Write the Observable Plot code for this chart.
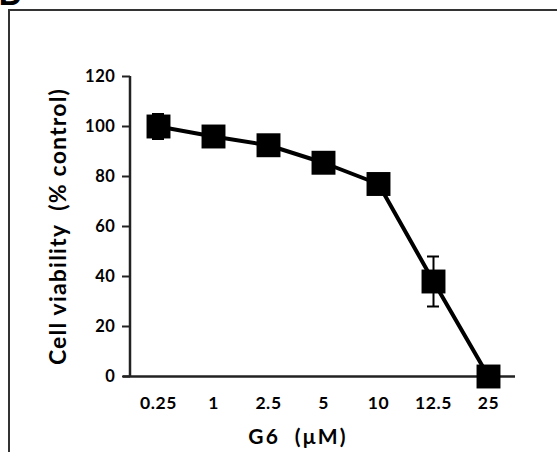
<!DOCTYPE html>
<html><head><meta charset="utf-8">
<script src="https://cdn.jsdelivr.net/npm/d3@7"></script>
<script src="https://cdn.jsdelivr.net/npm/@observablehq/plot@0.6"></script>
<style>
html,body{margin:0;padding:0;background:#fff;overflow:hidden;}
#wrap{position:relative;width:557px;height:452px;overflow:hidden;}
#box{position:absolute;left:8px;top:9px;width:600px;height:500px;border:2px solid #333;}
#lbl{position:absolute;left:0;top:0;}
#chart{position:absolute;left:0;top:0;}
.ttl{letter-spacing:1.2px;}
.xttl{letter-spacing:2.2px;}
.tk text{letter-spacing:0.6px;}
</style></head><body>
<div id="wrap"><div id="box"></div>
<svg id="lbl" width="60" height="20"><text x="-2" y="5" font-family="Lato, sans-serif" font-weight="bold" font-size="36" fill="#000">B</text></svg>
<div id="chart"></div></div>
<script>
const doses = ["0.25", "1", "2.5", "5", "10", "12.5", "25"];
const viability = [100, 96, 92.5, 85.5, 77, 38, 0];
const sem = [5, 3, 3, 3, 4, 10, 0];
const yTicks = [0, 20, 40, 60, 80, 100, 120];
const xTitle = "G6  (μM)";
const yTitle = "Cell viability  (% control)";

const data = doses.map((d, i) => ({dose: d, v: viability[i], e: sem[i]}));

const yAxisLine = (index, scales, values, dims) => {
  const l = d3.create("svg:line")
    .attr("x1", dims.marginLeft).attr("x2", dims.marginLeft)
    .attr("y1", scales.y(0)).attr("y2", scales.y(120))
    .attr("stroke", "#222").attr("stroke-width", 2.5);
  return l.node();
};

const plot = Plot.plot({
  width: 557, height: 452,
  marginLeft: 130, marginRight: 42, marginTop: 76, marginBottom: 76,
  style: {fontFamily: "Lato, sans-serif", fontSize: "14px", background: "transparent", color: "#000"},
  x: {type: "point", domain: doses, padding: 0.5},
  y: {domain: [0, 120]},
  marks: [
    Plot.axisY({ticks: yTicks, tickSize: 8, tickPadding: 7, fontWeight: "bold", fontSize: 16.5, label: null, stroke: "#222", strokeWidth: 2, className: "tk"}),
    Plot.axisX({tickSize: 0, tickPadding: 20, fontWeight: "bold", fontSize: 17.5, label: null, className: "tk"}),
    yAxisLine,
    Plot.ruleY([0], {insetLeft: -7, stroke: "#222", strokeWidth: 2.5}),
    Plot.ruleX(data, {x: "dose", y1: d => d.v - d.e, y2: d => d.v + d.e, stroke: "#000", strokeWidth: 2}),
    Plot.ruleY(data, {x1: "dose", x2: "dose", y: d => d.v + d.e, insetLeft: -6, insetRight: -6, stroke: "#000", strokeWidth: 2}),
    Plot.ruleY(data, {x1: "dose", x2: "dose", y: d => d.v - d.e, insetLeft: -6, insetRight: -6, stroke: "#000", strokeWidth: 2}),
    Plot.line(data, {x: "dose", y: "v", stroke: "#000", strokeWidth: 4}),
    Plot.dot(data, {x: "dose", y: "v", symbol: "square", r: 13.5, fill: "#000", stroke: "none"}),
    Plot.text([yTitle], {frameAnchor: "left", rotate: -90, dx: -72, fontSize: 23, fontWeight: "bold", textAnchor: "middle", lineAnchor: "middle", className: "ttl"}),
    Plot.text([xTitle], {frameAnchor: "bottom", dx: -25, dy: 61, fontSize: 21, fontWeight: "bold", textAnchor: "middle", lineAnchor: "middle", className: "xttl"})
  ]
});
document.getElementById("chart").appendChild(plot);
</script>
</body></html>
